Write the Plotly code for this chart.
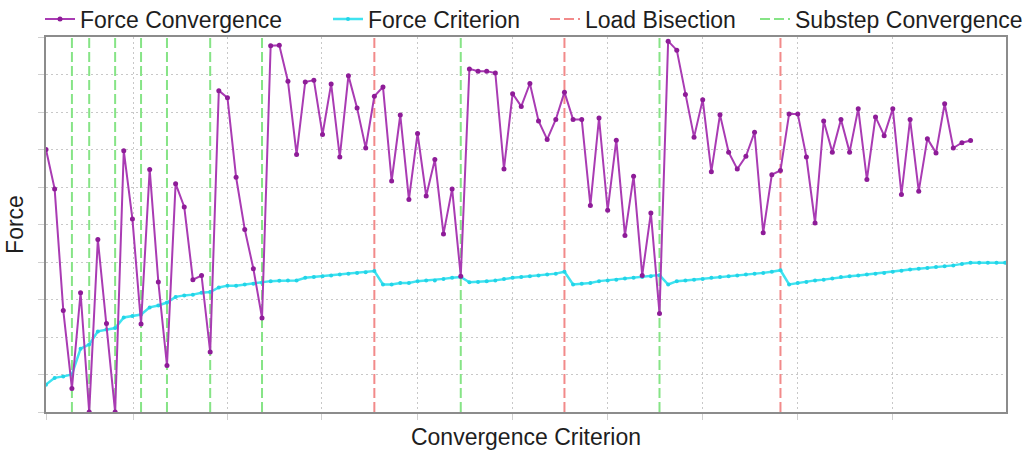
import plotly.graph_objects as go

# ---- data (iteration index = position along the convergence axis) ----
force_convergence = [
    7.0, 5.95, 2.71, 0.63, 3.18, 0.0, 4.6, 2.36, 0.0, 6.97,
    5.15, 2.35, 6.47, 3.47, 1.24, 6.09, 5.47, 3.53, 3.64, 1.6,
    8.57, 8.38, 6.26, 4.87, 3.82, 2.51, 9.77, 9.78, 8.82, 6.87,
    8.8, 8.85, 7.4, 8.75, 6.8, 8.97, 8.11, 7.04, 8.42, 8.67,
    6.16, 7.92, 5.67, 7.43, 5.76, 6.73, 4.75, 5.95, 3.62, 9.15,
    9.09, 9.09, 9.04, 6.48, 8.49, 8.15, 8.76, 7.76, 7.27, 7.8,
    8.53, 7.8, 7.8, 5.51, 7.84, 5.38, 7.25, 4.71, 6.29, 3.64,
    5.31, 2.63, 9.89, 9.65, 8.47, 7.33, 8.33, 6.41, 7.93, 6.93,
    6.48, 6.82, 7.46, 4.78, 6.33, 6.44, 7.95, 7.95, 6.8, 5.04,
    7.76, 6.93, 7.8, 6.93, 8.09, 6.2, 7.87, 7.37, 8.09, 5.8,
    7.8, 5.89, 7.29, 6.91, 8.22, 7.04, 7.18, 7.24,
]
force_criterion = [
    0.73, 0.91, 0.95, 1.0, 1.69, 1.8, 2.15, 2.2, 2.24, 2.52,
    2.56, 2.6, 2.79, 2.84, 2.92, 3.07, 3.11, 3.13, 3.18, 3.2,
    3.32, 3.37, 3.37, 3.4, 3.42, 3.45, 3.49, 3.5, 3.51, 3.51,
    3.58, 3.6, 3.62, 3.64, 3.67, 3.69, 3.71, 3.73, 3.76, 3.4,
    3.4, 3.44, 3.44, 3.49, 3.51, 3.51, 3.55, 3.58, 3.6, 3.46,
    3.47, 3.49, 3.51, 3.55, 3.58, 3.6, 3.62, 3.64, 3.67, 3.69,
    3.74, 3.4, 3.42, 3.44, 3.49, 3.51, 3.53, 3.56, 3.58, 3.6,
    3.62, 3.65, 3.4, 3.49, 3.51, 3.53, 3.55, 3.58, 3.6, 3.62,
    3.64, 3.67, 3.69, 3.71, 3.74, 3.78, 3.4, 3.44, 3.47, 3.51,
    3.53, 3.56, 3.6, 3.62, 3.64, 3.67, 3.69, 3.71, 3.74, 3.77,
    3.8, 3.82, 3.84, 3.87, 3.89, 3.91, 3.95, 3.98, 3.98, 3.98,
    3.98, 3.98,
]
load_bisection = [38, 60, 85]
substep_convergence = [3, 5, 8, 11, 14, 19, 25, 48, 71]
x_grid = [10.07, 21.06, 31.94, 42.94, 53.94, 64.93, 75.93, 86.92, 97.92]
y_min, y_max = 0, 10
x_max = 111.1

FONT = "Liberation Sans, Arial, sans-serif"


def vlines(xs):
    vx, vy = [], []
    for v in xs:
        vx += [v, v, None]
        vy += [y_min, y_max, None]
    return vx, vy


fig = go.Figure()

gx, gy = vlines(substep_convergence)
fig.add_trace(go.Scatter(x=gx, y=gy, mode="lines", name="Substep Convergence",
                         line=dict(color="#86E486", width=2, dash="10px,4px"),
                         legend="legend4", hoverinfo="skip"))
rx, ry = vlines(load_bisection)
fig.add_trace(go.Scatter(x=rx, y=ry, mode="lines", name="Load Bisection",
                         line=dict(color="#F28A8A", width=2, dash="10px,4px"),
                         legend="legend3", hoverinfo="skip"))
fig.add_trace(go.Scatter(x=list(range(len(force_criterion))), y=force_criterion,
                         mode="lines+markers", name="Force Criterion",
                         line=dict(color="#3FE3F0", width=2.5),
                         marker=dict(color="#22D4E8", size=4),
                         legend="legend2"))
fig.add_trace(go.Scatter(x=list(range(len(force_convergence))), y=force_convergence,
                         mode="lines+markers", name="Force Convergence",
                         line=dict(color="#A93BB3", width=2),
                         marker=dict(color="#8E1C98", size=5),
                         legend="legend"))

leg_common = dict(orientation="h", xref="container", yref="container",
                  yanchor="middle", xanchor="left", y=1 - 19 / 452,
                  bgcolor="rgba(0,0,0,0)", borderwidth=0,
                  font=dict(family=FONT, size=23, color="#1E1E1E"))

fig.update_layout(
    width=1026, height=452,
    margin=dict(l=46, r=20, t=37, b=40, autoexpand=False),
    paper_bgcolor="white", plot_bgcolor="white",
    font=dict(family=FONT, size=23, color="#1E1E1E"),
    legend=dict(x=40 / 1026, **leg_common),
    legend2=dict(x=328 / 1026, **leg_common),
    legend3=dict(x=545 / 1026, **leg_common),
    legend4=dict(x=755 / 1026, **leg_common),
    xaxis=dict(range=[0, x_max], tickmode="array", tickvals=[0] + x_grid,
               showticklabels=False, ticks="outside", ticklen=6,
               tickcolor="#D0D0D0", showgrid=True, gridcolor="#C8C8C8",
               griddash="2px,3px", gridwidth=1, zeroline=False,
               showline=True, linecolor="#8C8C8C", linewidth=2, mirror=True,
               title=dict(text="Convergence Criterion", standoff=10,
                          font=dict(family=FONT, size=23, color="#1E1E1E"))),
    yaxis=dict(range=[y_min, y_max], dtick=1, tick0=0, showticklabels=False,
               ticks="outside", ticklen=6, tickcolor="#D0D0D0",
               showgrid=True, gridcolor="#C8C8C8", griddash="2px,3px",
               gridwidth=1, zeroline=False, showline=True,
               linecolor="#8C8C8C", linewidth=2, mirror=True,
               title=dict(text="Force", standoff=8,
                          font=dict(family=FONT, size=23, color="#1E1E1E"))),
    showlegend=True,
)

fig.write_html("out.html")
